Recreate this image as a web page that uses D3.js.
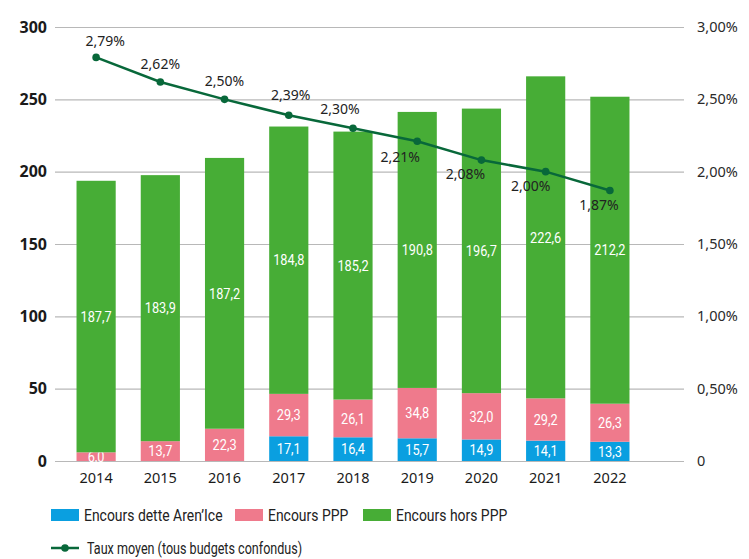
<!DOCTYPE html>
<html>
<head>
<meta charset="utf-8">
<script src="https://cdn.jsdelivr.net/npm/d3@7"></script>
<style>
  body { margin: 0; background: #fff; }
  svg { display: block; }
</style>
</head>
<body>
<svg id="chart" width="749" height="559"></svg>
<script>
// Data
const years = ["2014", "2015", "2016", "2017", "2018", "2019", "2020", "2021", "2022"];
const encoursAren = [0, 0, 0, 17.1, 16.4, 15.7, 14.9, 14.1, 13.3];
const encoursPPP = [6.0, 13.7, 22.3, 29.3, 26.1, 34.8, 32.0, 29.2, 26.3];
const encoursHorsPPP = [187.7, 183.9, 187.2, 184.8, 185.2, 190.8, 196.7, 222.6, 212.2];
const tauxMoyen = [2.79, 2.62, 2.50, 2.39, 2.30, 2.21, 2.08, 2.00, 1.87];
const leftTicks = [0, 50, 100, 150, 200, 250, 300];
const rightTicks = [0, 0.5, 1, 1.5, 2, 2.5, 3];
const seriesNames = ["Encours dette Aren’Ice", "Encours PPP", "Encours hors PPP"];
const lineName = "Taux moyen (tous budgets confondus)";

const colors = ["#0a9fe0", "#ef7a8c", "#47ad36"];
const lineColor = "#08683a";
const frNum = d3.formatLocale({ decimal: ",", thousands: " ", grouping: [3], currency: ["", "€"] });
const fmt1 = frNum.format(".1f");
const fmt2 = frNum.format(".2f");

// Percentage labels: above for the first years, below (nudged left) for the last ones
const labelNudge = [
  { dx: 9, dy: -16 }, { dx: 0, dy: -18 }, { dx: 0, dy: -18 }, { dx: 2, dy: -20 }, { dx: -13, dy: -19 },
  { dx: -17, dy: 16 }, { dx: -16, dy: 14 }, { dx: -15, dy: 14 }, { dx: -11, dy: 15 }
];

const svg = d3.select("#chart");
const mainFont = "'Noto Sans', 'Open Sans', sans-serif";
const narrowFont = "Roboto, sans-serif";
// the reference uses a condensed face; squeeze Roboto horizontally to get close

const x = d3.scaleBand().domain(years).range([64, 642]).paddingInner(0.39).paddingOuter(0.195);
const y = d3.scaleLinear().domain([0, 300]).range([461, 27]);
const yR = d3.scaleLinear().domain([0, 3]).range([461, 27]);

// Left axis with gridlines
const gLeft = svg.append("g")
  .attr("transform", "translate(55,0)")
  .call(d3.axisLeft(y).tickValues(leftTicks).tickSizeInner(-629).tickSizeOuter(0).tickPadding(8));
gLeft.select(".domain").remove();
gLeft.selectAll(".tick line").attr("stroke", "#b8b8b8").attr("stroke-width", 1.2);
gLeft.selectAll(".tick text")
  .attr("font-family", mainFont).attr("font-size", 16).attr("font-weight", "bold").attr("fill", "#1a1a1a");

// Right axis
const gRight = svg.append("g")
  .attr("transform", "translate(684,0)")
  .call(d3.axisRight(yR).tickValues(rightTicks).tickSize(0).tickPadding(13)
    .tickFormat(d => d === 0 ? "0" : fmt2(d) + "%"));
gRight.select(".domain").remove();
gRight.selectAll(".tick text")
  .attr("font-family", mainFont).attr("font-size", 14.5).attr("fill", "#2a2a2a");

// Stacked bars
const rows = years.map((yr, i) => ({ year: yr, a: encoursAren[i], p: encoursPPP[i], h: encoursHorsPPP[i] }));
const stack = d3.stack().keys(["a", "p", "h"])(rows);

const layers = svg.append("g").selectAll("g")
  .data(stack)
  .join("g")
  .attr("fill", (d, i) => colors[i]);

layers.selectAll("rect")
  .data(d => d)
  .join("rect")
  .attr("x", d => x(d.data.year))
  .attr("width", x.bandwidth())
  .attr("y", d => y(d[1]))
  .attr("height", d => y(d[0]) - y(d[1]));

layers.selectAll("text")
  .data(d => d.filter(s => s[1] - s[0] > 0))
  .join("text")
  .attr("transform", d => `translate(${x(d.data.year) + x.bandwidth() / 2},${y((d[0] + d[1]) / 2)}) scale(0.85,1)`)
  .attr("dy", "0.35em")
  .attr("text-anchor", "middle")
  .attr("font-family", narrowFont)
  .attr("font-size", 15)
  .attr("font-weight", 400)
  .attr("fill", "#fff")
  .text(d => fmt1(d[1] - d[0]));

// X axis labels
const gX = svg.append("g")
  .attr("transform", "translate(0,461)")
  .call(d3.axisBottom(x).tickSize(0).tickPadding(12));
gX.select(".domain").remove();
gX.selectAll(".tick text")
  .attr("font-family", mainFont).attr("font-size", 14.5).attr("fill", "#1a1a1a");

// Rate line
const pts = years.map((yr, i) => ({ year: yr, v: tauxMoyen[i], i }));
const line = d3.line().x(d => x(d.year) + x.bandwidth() / 2).y(d => yR(d.v));

svg.append("path")
  .datum(pts)
  .attr("d", line)
  .attr("fill", "none")
  .attr("stroke", lineColor)
  .attr("stroke-width", 2.5);

svg.append("g").selectAll("circle")
  .data(pts)
  .join("circle")
  .attr("cx", d => x(d.year) + x.bandwidth() / 2)
  .attr("cy", d => yR(d.v))
  .attr("r", 3.8)
  .attr("fill", lineColor);

svg.append("g").selectAll("text")
  .data(pts)
  .join("text")
  .attr("x", d => x(d.year) + x.bandwidth() / 2 + labelNudge[d.i].dx)
  .attr("y", d => yR(d.v) + labelNudge[d.i].dy)
  .attr("dy", "0.35em")
  .attr("text-anchor", "middle")
  .attr("font-family", mainFont)
  .attr("font-size", 14)
  .attr("fill", "#222")
  .text(d => fmt2(d.v) + "%");

// Legend
const legend = svg.append("g").attr("font-family", narrowFont).attr("font-size", 17).attr("fill", "#222");
const legendX = [51, 235, 363];
seriesNames.forEach((name, i) => {
  legend.append("rect")
    .attr("x", legendX[i]).attr("y", 509).attr("width", 28).attr("height", 12)
    .attr("fill", colors[i]);
  legend.append("text")
    .attr("transform", `translate(${legendX[i] + 33},515) scale(0.82,1)`)
    .attr("dy", "0.35em")
    .text(name);
});
legend.append("line")
  .attr("x1", 51).attr("x2", 79).attr("y1", 548).attr("y2", 548)
  .attr("stroke", lineColor).attr("stroke-width", 2.5);
legend.append("circle")
  .attr("cx", 65).attr("cy", 548).attr("r", 3.8).attr("fill", lineColor);
legend.append("text")
  .attr("transform", "translate(87,548) scale(0.74,1)")
  .attr("dy", "0.35em")
  .text(lineName);
</script>
</body>
</html>
